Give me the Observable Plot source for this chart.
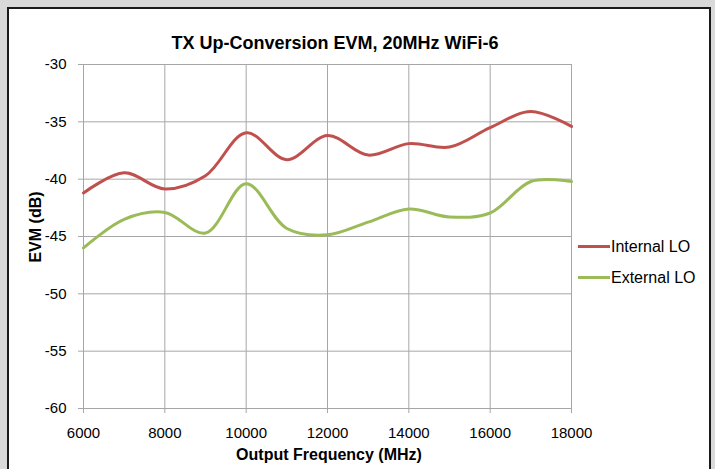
<!DOCTYPE html>
<html>
<head>
<meta charset="utf-8">
<script src="https://cdn.jsdelivr.net/npm/d3@7"></script>
<script src="https://cdn.jsdelivr.net/npm/@observablehq/plot@0.6"></script>
<style>
  html, body { margin: 0; padding: 0; background: #d9d9d9; width: 715px; height: 469px; overflow: hidden; }
  #panel { position: absolute; left: 7px; top: 7px; width: 704px; height: 520px; box-sizing: border-box; border: 2px solid #1a1a1a; background: #ffffff; }
  #chart { position: absolute; left: 0; top: 0; }
</style>
</head>
<body>
<div id="panel"></div>
<div id="chart"></div>
<script>
const titleText = "TX Up-Conversion EVM, 20MHz WiFi-6";
const xTitle = "Output Frequency (MHz)";
const yTitle = "EVM (dB)";
const seriesNames = ["Internal LO", "External LO"];
const seriesColors = ["#c0504d", "#9bbb59"];
const freq = [6000, 7000, 8000, 9000, 10000, 11000, 12000, 13000, 14000, 15000, 16000, 17000, 18000];
const internalLO = [-41.2, -39.45, -40.85, -39.7, -35.95, -38.3, -36.2, -37.9, -36.9, -37.2, -35.5, -34.1, -35.4];
const externalLO = [-46.0, -43.5, -42.9, -44.7, -40.4, -44.3, -44.85, -43.75, -42.6, -43.3, -42.95, -40.2, -40.2];
const xTicks = [6000, 8000, 10000, 12000, 14000, 16000, 18000];
const yTicks = [-60, -55, -50, -45, -40, -35, -30];

const data = freq.flatMap((f, i) => [
  {f, v: internalLO[i], s: seriesNames[0]},
  {f, v: externalLO[i], s: seriesNames[1]}
]);

const gridColor = "#a6a6a6";
const font = "'Liberation Sans', Arial, sans-serif";

const svg = Plot.plot({
  width: 715,
  height: 469,
  marginLeft: 83,
  marginRight: 144,
  marginTop: 64,
  marginBottom: 61,
  style: {fontFamily: font, fontSize: "15px", background: "transparent", color: "#000"},
  x: {domain: [6000, 18000]},
  y: {domain: [-60, -30]},
  color: {domain: seriesNames, range: seriesColors},
  marks: [
    Plot.gridX(xTicks, {stroke: gridColor, strokeOpacity: 1, strokeWidth: 1}),
    Plot.gridY(yTicks, {stroke: gridColor, strokeOpacity: 1, strokeWidth: 1}),
    Plot.axisX(xTicks, {tickSize: 5, tickPadding: 14, stroke: gridColor, fill: "#000", tickFormat: d => String(d), label: null, fontSize: 15}),
    Plot.axisY(yTicks, {tickSize: 5, tickPadding: 12, stroke: gridColor, fill: "#000", tickFormat: d => String(d), label: null, fontSize: 15}),
    Plot.line(data, {x: "f", y: "v", z: "s", stroke: "s", strokeWidth: 3, curve: "catmull-rom"})
  ]
});

const root = d3.select(svg);
// Titles
root.append("text").attr("x", 335).attr("y", 43).attr("dy", "0.35em")
  .attr("text-anchor", "middle").attr("font-family", font).attr("font-size", 18)
  .attr("font-weight", "bold").attr("fill", "#000").text(titleText);
root.append("text").attr("x", 329).attr("y", 454).attr("dy", "0.35em")
  .attr("text-anchor", "middle").attr("font-family", font).attr("font-size", 16)
  .attr("font-weight", "bold").attr("fill", "#000").text(xTitle);
root.append("text").attr("transform", "translate(35,227) rotate(-90)").attr("dy", "0.35em")
  .attr("text-anchor", "middle").attr("font-family", font).attr("font-size", 16)
  .attr("font-weight", "bold").attr("fill", "#000").text(yTitle);

// Legend (line swatches on the right)
const lg = root.append("g").attr("font-family", font).attr("font-size", 16).attr("text-anchor", "start");
const legendY = [246.5, 277.5];
seriesNames.forEach((name, i) => {
  lg.append("line").attr("x1", 578).attr("x2", 610).attr("y1", legendY[i]).attr("y2", legendY[i])
    .attr("stroke", seriesColors[i]).attr("stroke-width", 3);
  lg.append("text").attr("x", 611).attr("y", legendY[i]).attr("dy", "0.35em").attr("fill", "#000").text(name);
});

document.getElementById("chart").appendChild(svg);
</script>
</body>
</html>
